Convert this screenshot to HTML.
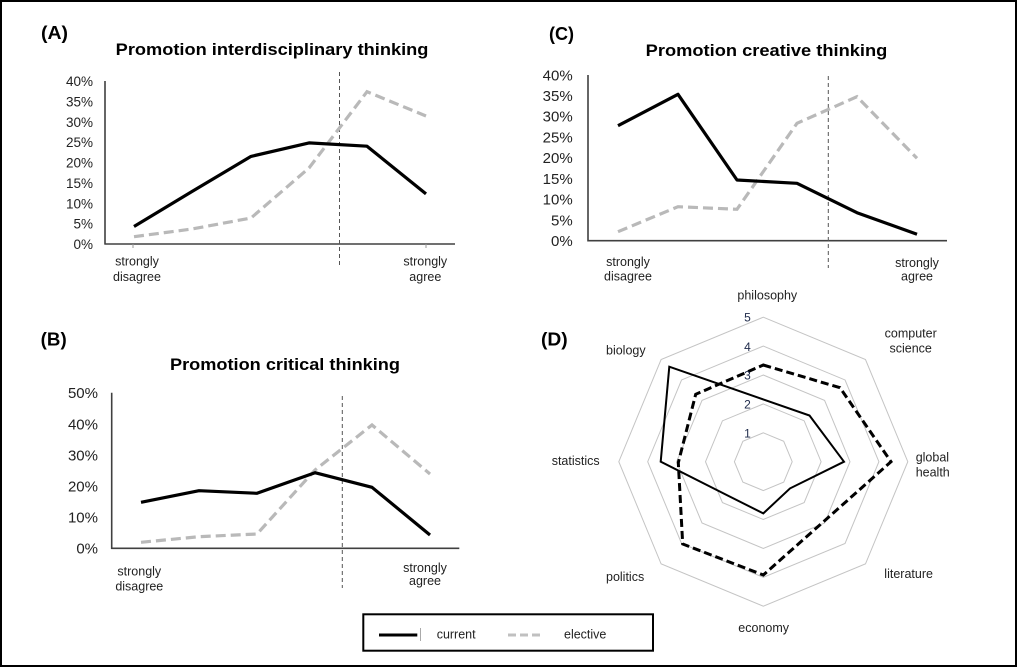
<!DOCTYPE html>
<html><head><meta charset="utf-8"><style>
html,body{margin:0;padding:0;background:#fff;}
svg{display:block;}
text{font-family:"Liberation Sans",Arial,sans-serif;fill:#222;}
.b{font-weight:bold;fill:#000;}
</style></head><body>
<svg width="1017" height="667" viewBox="0 0 1017 667" xmlns="http://www.w3.org/2000/svg">
<rect x="0" y="0" width="1017" height="667" fill="#fff"/>
<rect x="1" y="1" width="1015" height="665" fill="none" stroke="#000" stroke-width="2"/>

<!-- ===== Panel A ===== -->
<text class="b" x="41" y="39" font-size="18" textLength="27" lengthAdjust="spacingAndGlyphs">(A)</text>
<text class="b" x="115.7" y="55.2" font-size="17" textLength="312.7" lengthAdjust="spacingAndGlyphs">Promotion interdisciplinary thinking</text>
<g font-size="13.5" text-anchor="end">
<text x="93" y="86">40%</text><text x="93" y="106.4">35%</text><text x="93" y="126.8">30%</text><text x="93" y="147.1">25%</text><text x="93" y="167.5">20%</text><text x="93" y="187.9">15%</text><text x="93" y="208.3">10%</text><text x="93" y="228.6">5%</text><text x="93" y="249">0%</text>
</g>
<line x1="105" y1="81" x2="105" y2="244.5" stroke="#404040" stroke-width="1.6"/>
<line x1="104.5" y1="244" x2="455" y2="244" stroke="#404040" stroke-width="1.6"/>
<line x1="133" y1="244" x2="133" y2="248" stroke="#999" stroke-width="1"/>
<line x1="426" y1="244" x2="426" y2="248" stroke="#999" stroke-width="1"/>
<line x1="339.5" y1="72" x2="339.5" y2="265" stroke="#555" stroke-width="1" stroke-dasharray="4 3"/>
<polyline points="134,236.7 192,229 251,218 309,168 367,91.7 426,116" fill="none" stroke="#b9b9b9" stroke-width="3.2" stroke-dasharray="10 5"/>
<polyline points="134,226.5 192,191.5 251,156.4 309,142.9 367,146.2 426,193.9" fill="none" stroke="#000" stroke-width="3.2" stroke-linejoin="round"/>
<g font-size="12.5" text-anchor="middle">
<text x="137" y="265.5">strongly</text><text x="137" y="281">disagree</text>
<text x="425.3" y="265.5">strongly</text><text x="425.3" y="281">agree</text>
</g>

<!-- ===== Panel C ===== -->
<text class="b" x="549" y="40" font-size="18" textLength="25" lengthAdjust="spacingAndGlyphs">(C)</text>
<text class="b" x="645.7" y="56.2" font-size="17" textLength="241.6" lengthAdjust="spacingAndGlyphs">Promotion creative thinking</text>
<g font-size="15" text-anchor="end">
<text x="572.7" y="80.3">40%</text><text x="572.7" y="101">35%</text><text x="572.7" y="121.7">30%</text><text x="572.7" y="142.4">25%</text><text x="572.7" y="163.1">20%</text><text x="572.7" y="183.8">15%</text><text x="572.7" y="204.6">10%</text><text x="572.7" y="225.3">5%</text><text x="572.7" y="246">0%</text>
</g>
<line x1="588" y1="75" x2="588" y2="241.5" stroke="#404040" stroke-width="1.6"/>
<line x1="587.5" y1="240.7" x2="947" y2="240.7" stroke="#404040" stroke-width="1.6"/>
<line x1="828.3" y1="76" x2="828.3" y2="268" stroke="#555" stroke-width="1" stroke-dasharray="4 3"/>
<polyline points="618,231.7 678,206.7 737,209.3 797,123.3 857,96.7 917,158.3" fill="none" stroke="#b9b9b9" stroke-width="3.2" stroke-dasharray="10 5"/>
<polyline points="618,125.7 678,94.3 737,180 797,183.3 857,212.7 917,234.3" fill="none" stroke="#000" stroke-width="3.2" stroke-linejoin="round"/>
<g font-size="12.5" text-anchor="middle">
<text x="628" y="266">strongly</text><text x="628" y="280.7">disagree</text>
<text x="917" y="267">strongly</text><text x="917" y="280.5">agree</text>
</g>

<!-- ===== Panel B ===== -->
<text class="b" x="40.7" y="345.5" font-size="18" textLength="26" lengthAdjust="spacingAndGlyphs">(B)</text>
<text class="b" x="170" y="370.2" font-size="17" textLength="230" lengthAdjust="spacingAndGlyphs">Promotion critical thinking</text>
<g font-size="15" text-anchor="end">
<text x="98" y="398.2">50%</text><text x="98" y="429.3">40%</text><text x="98" y="460.4">30%</text><text x="98" y="491.5">20%</text><text x="98" y="522.6">10%</text><text x="98" y="553.7">0%</text>
</g>
<line x1="111.7" y1="392.7" x2="111.7" y2="549" stroke="#404040" stroke-width="1.6"/>
<line x1="111.2" y1="548.3" x2="459.3" y2="548.3" stroke="#404040" stroke-width="1.6"/>
<line x1="342.3" y1="396" x2="342.3" y2="588" stroke="#555" stroke-width="1" stroke-dasharray="4 3"/>
<polyline points="141,542.3 199,536.7 257,534 315,470 372,425 430,474" fill="none" stroke="#b9b9b9" stroke-width="3.2" stroke-dasharray="10 5"/>
<polyline points="141,502.3 199,490.7 257,493.3 315,472.7 372,487.3 430,535" fill="none" stroke="#000" stroke-width="3.2" stroke-linejoin="round"/>
<g font-size="12.5" text-anchor="middle">
<text x="139.3" y="575.5">strongly</text><text x="139.3" y="590.5">disagree</text>
<text x="425" y="572">strongly</text><text x="425" y="585">agree</text>
</g>

<!-- ===== Panel D radar ===== -->
<text class="b" x="541" y="345.5" font-size="18" textLength="26.7" lengthAdjust="spacingAndGlyphs">(D)</text>
<g transform="translate(763.3,461.7)">
<g fill="none" stroke="#c4c4c4" stroke-width="1">
<polygon points="0,-28.9 20.43,-20.43 28.9,0 20.43,20.43 0,28.9 -20.43,20.43 -28.9,0 -20.43,-20.43"/>
<polygon points="0,-57.8 40.87,-40.87 57.8,0 40.87,40.87 0,57.8 -40.87,40.87 -57.8,0 -40.87,-40.87"/>
<polygon points="0,-86.7 61.3,-61.3 86.7,0 61.3,61.3 0,86.7 -61.3,61.3 -86.7,0 -61.3,-61.3"/>
<polygon points="0,-115.6 81.74,-81.74 115.6,0 81.74,81.74 0,115.6 -81.74,81.74 -115.6,0 -81.74,-81.74"/>
<polygon points="0,-144.5 102.18,-102.18 144.5,0 102.18,102.18 0,144.5 -102.18,102.18 -144.5,0 -102.18,-102.18"/>
</g>
<polygon points="0,-96.7 76.7,-74 127.7,0 60.1,60.1 0,113.3 -80.6,82.3 -85,1 -67.6,-67.4" fill="none" stroke="#000" stroke-width="3" stroke-dasharray="8 4"/>
<polygon points="0,-62.3 46.2,-46.2 80.7,0 26.7,26.7 0,51.7 -34.4,34.4 -102.6,0 -94,-95" fill="none" stroke="#000" stroke-width="2"/>
</g>
<g font-size="12" text-anchor="middle" fill="#1e2a4a">
<text x="747.5" y="321.5" style="fill:#1e2a4a">5</text>
<text x="747.5" y="350.8" style="fill:#1e2a4a">4</text>
<text x="747.5" y="379.5" style="fill:#1e2a4a">3</text>
<text x="747.5" y="408.5" style="fill:#1e2a4a">2</text>
<text x="747.5" y="437.5" style="fill:#1e2a4a">1</text>
</g>
<g font-size="12.5">
<text x="767.3" y="299.5" text-anchor="middle">philosophy</text>
<text x="910.7" y="337.5" text-anchor="middle">computer</text>
<text x="910.7" y="352.5" text-anchor="middle">science</text>
<text x="915.7" y="461.5">global</text>
<text x="915.7" y="476.5">health</text>
<text x="884.3" y="578">literature</text>
<text x="738.3" y="632">economy</text>
<text x="606" y="581">politics</text>
<text x="551.7" y="465">statistics</text>
<text x="606" y="354.5">biology</text>
</g>

<!-- ===== Legend ===== -->
<rect x="363.3" y="614.3" width="289.7" height="36.4" fill="#fff" stroke="#000" stroke-width="2"/>
<line x1="379" y1="635" x2="417.3" y2="635" stroke="#000" stroke-width="3"/>
<line x1="420.5" y1="628" x2="420.5" y2="641" stroke="#aaa" stroke-width="1"/>
<text x="436.7" y="638.5" font-size="12.5">current</text>
<line x1="508" y1="635" x2="544" y2="635" stroke="#c0c0c0" stroke-width="3" stroke-dasharray="8 4"/>
<text x="564" y="638.5" font-size="12.5">elective</text>
</svg>
</body></html>
